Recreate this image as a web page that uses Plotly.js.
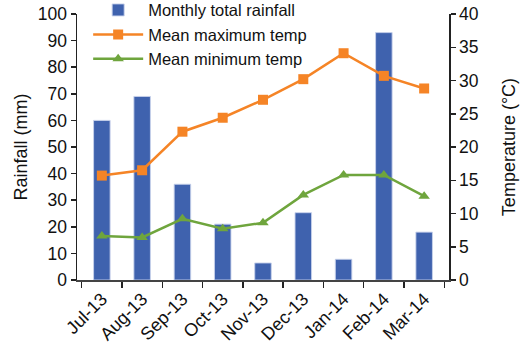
<!DOCTYPE html>
<html>
<head>
<meta charset="utf-8">
<script src="https://cdn.plot.ly/plotly-3.0.1.min.js"></script>
<style>html,body{margin:0;padding:0;background:#fff}#chart{width:527px;height:346px}</style>
</head>
<body>
<div id="chart"></div>
<script>
const months = ["Jul-13","Aug-13","Sep-13","Oct-13","Nov-13","Dec-13","Jan-14","Feb-14","Mar-14"];
const rainfall = [60, 69, 36, 21, 6.4, 25.3, 7.8, 93, 18];
const maxTemp = [15.7, 16.5, 22.3, 24.4, 27.1, 30.2, 34.1, 30.7, 28.8];
const minTemp = [6.6, 6.4, 9.2, 7.7, 8.6, 12.8, 15.8, 15.8, 12.6];

const FONT = "Arial, 'Liberation Sans', Helvetica, sans-serif";
const traces = [
  {type:"bar", x:months, y:rainfall, name:"Monthly total rainfall", width:0.41,
   marker:{color:"#3F62AE", line:{color:"rgba(200,210,235,0.9)", width:1}}, yaxis:"y"},
  {type:"scatter", mode:"lines+markers", x:months, y:maxTemp, name:"Mean maximum temp", yaxis:"y2",
   line:{color:"#F58426", width:2.5}, marker:{symbol:"square", size:10, color:"#F58426"}},
  {type:"scatter", mode:"lines+markers", x:months, y:minTemp, name:"Mean minimum temp", yaxis:"y2",
   line:{color:"#6FA53D", width:2.5}, marker:{symbol:"triangle-up", size:10, color:"#6FA53D"}}
];
const layout = {
  width:527, height:346,
  margin:{l:77, r:78, t:14, b:66, autoexpand:false},
  paper_bgcolor:"#fff", plot_bgcolor:"#fff",
  font:{family:FONT, color:"#111", size:17},
  showlegend:true,
  legend:{x:0.03, y:1.08, xanchor:"left", yanchor:"top", bgcolor:"rgba(0,0,0,0)",
          font:{size:16.5, family:FONT}, itemwidth:50, tracegroupgap:0},
  bargap:0.59,
  xaxis:{type:"category", showline:true, linecolor:"#444", linewidth:1.5, ticks:"outside",
         tickson:"boundaries", ticklen:6, tickcolor:"#222", tickwidth:1.5, tickangle:-45,
         tickfont:{size:18}, showgrid:false, zeroline:false},
  yaxis:{range:[0,100], dtick:10, showline:true, linecolor:"#222", linewidth:1.5, ticks:"outside",
         ticklen:5, tickwidth:1.5, tickcolor:"#222", showgrid:false, zeroline:false,
         tickfont:{size:17.5}, title:{text:"Rainfall (mm)", font:{size:18}, standoff:5}},
  yaxis2:{range:[0,40], dtick:5, overlaying:"y", side:"right", showline:true, linecolor:"#222",
          linewidth:1.5, ticks:"outside", ticklen:5, tickwidth:1.5, tickcolor:"#222",
          showgrid:false, zeroline:false, tickfont:{size:17.5},
          title:{text:"Temperature (°C)", font:{size:18}, standoff:24}}
};
Plotly.newPlot("chart", traces, layout, {displayModeBar:false, staticPlot:true});
</script>
</body>
</html>
